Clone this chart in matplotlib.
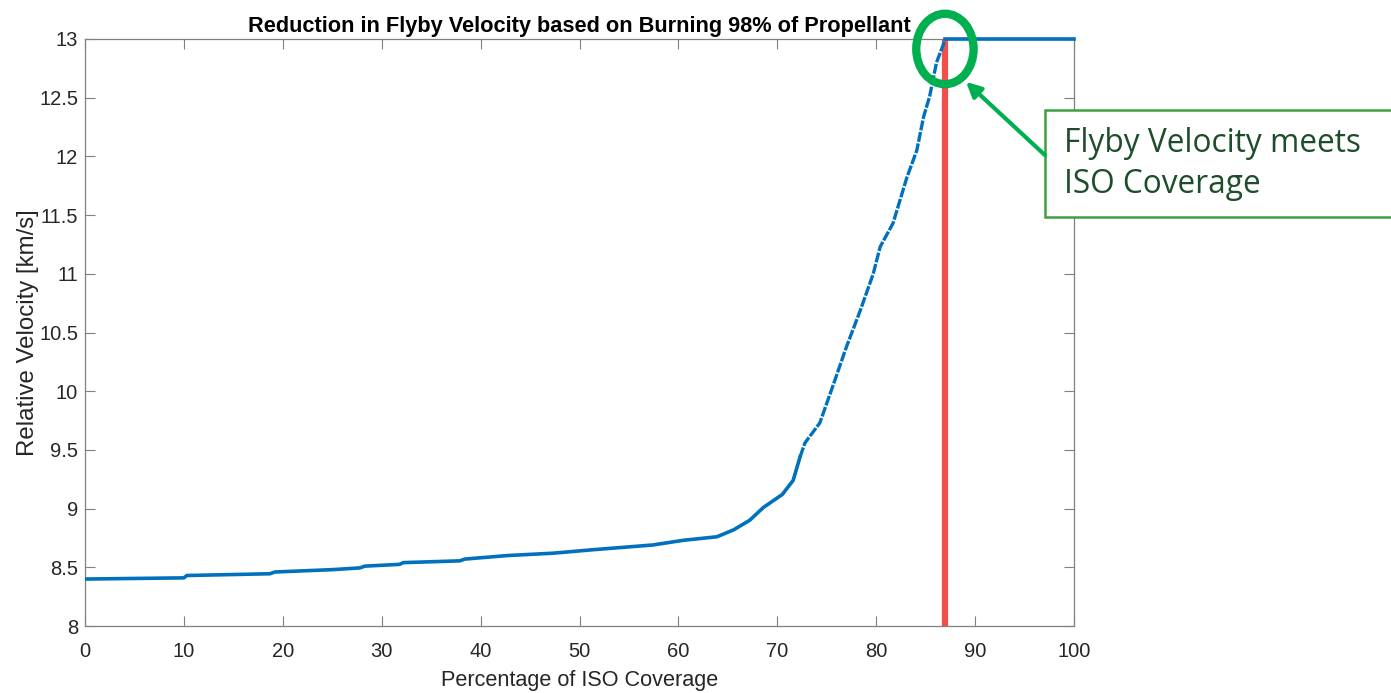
import matplotlib
matplotlib.use("Agg")
import matplotlib.pyplot as plt
from matplotlib.patches import Ellipse, Rectangle, FancyArrowPatch

# ---- data ----
coverage = [0, 10, 10.3, 18.7, 19.2, 25, 27.8, 28.3, 31.8, 32.2, 37.9, 38.4,
            42.7, 47.3, 51.4, 57.4, 60.5, 63.9, 65.6, 67.2, 68.6, 70.5, 71.6,
            72.3, 72.8, 74.3, 75.6, 77.0, 78.4, 79.7, 80.4, 81.7, 83.1, 84.1,
            84.8, 85.4, 86.1, 87.0]
velocity = [8.40, 8.41, 8.43, 8.445, 8.46, 8.48, 8.495, 8.51, 8.525, 8.54,
            8.555, 8.57, 8.60, 8.62, 8.65, 8.69, 8.73, 8.76, 8.82, 8.90, 9.01,
            9.12, 9.24, 9.44, 9.56, 9.73, 10.04, 10.38, 10.69, 11.0, 11.23,
            11.43, 11.82, 12.05, 12.34, 12.51, 12.8, 13.0]
flat_coverage = [87.0, 100.0]
flat_velocity = [13.0, 13.0]
meet_coverage = 87.0
sparse_from = 72.3   # beyond this the sampled points become visibly sparse
x_ticks = [0, 10, 20, 30, 40, 50, 60, 70, 80, 90, 100]
y_ticks = [8, 8.5, 9, 9.5, 10, 10.5, 11, 11.5, 12, 12.5, 13]
y_tick_labels = ["8", "8.5", "9", "9.5", "10", "10.5", "11", "11.5", "12", "12.5", "13"]

title = "Reduction in Flyby Velocity based on Burning 98% of Propellant"
xlabel = "Percentage of ISO Coverage"
ylabel = "Relative Velocity [km/s]"
note = "Flyby Velocity meets\nISO Coverage"

plt.rcParams['font.family'] = ['Liberation Sans', 'DejaVu Sans']

W, H = 1391, 693
fig = plt.figure(figsize=(W / 100, H / 100), dpi=100)
ax = fig.add_axes([85 / W, 1 - 626 / H, (1074 - 85) / W, (626 - 39) / H])

blue = "#0072BD"
red = "#F24E4E"
green = "#00B050"

ax.plot([meet_coverage, meet_coverage], [8, 13], color=red, lw=4.5,
        solid_capstyle='butt', zorder=2)
dense_x = [c for c in coverage if c <= sparse_from]
dense_y = velocity[:len(dense_x)]
sparse_x = coverage[len(dense_x) - 1:]
sparse_y = velocity[len(dense_x) - 1:]
ax.plot(dense_x, dense_y, color=blue, lw=2.6, zorder=3)
ax.plot(sparse_x, sparse_y, color=blue, lw=2.4, zorder=3,
        linestyle=(0, (3.0, 0.5)), dash_capstyle='butt')
ax.plot(flat_coverage, flat_velocity, color=blue, lw=2.6, zorder=3, clip_on=False)

ax.set_xlim(0, 100)
ax.set_ylim(8, 13)
ax.set_xticks(x_ticks)
ax.set_yticks(y_ticks)
ax.set_yticklabels(y_tick_labels)
ax.tick_params(direction='in', length=7, width=0.8, color='#808080',
               labelcolor='#262626', labelsize=14.5, top=True, right=True)
ax.tick_params(axis='x', pad=11.3)
ax.tick_params(axis='y', pad=5)
for s in ax.spines.values():
    s.set_color('#808080')
    s.set_linewidth(0.9)

ax.set_title(title, fontsize=15.7, fontweight='bold', color='black', pad=5)
ax.set_xlabel(xlabel, fontsize=15.6, color='#262626', labelpad=6.5)
ax.set_ylabel(ylabel, fontsize=17.3, color='#262626', labelpad=0)

# highlight circle
ell = Ellipse((86.95, 12.915), width=5.8, height=0.6, fill=False,
              edgecolor=green, lw=6, clip_on=False, zorder=5)
ax.add_patch(ell)

# text box
rect = Rectangle((1045 / W, 1 - 217 / H), 400 / W, (217 - 110) / H,
                 transform=fig.transFigure, fill=True, facecolor='white',
                 edgecolor='#3FA043', lw=1.8, clip_on=False, zorder=6)
fig.patches.append(rect)
fig.text(1064 / W, 1 - 164 / H, note, fontsize=22.8, color='#1E4D2B',
         family=['Open Sans', 'DejaVu Sans'], va='center', ha='left',
         linespacing=1.3, zorder=7)

arrow = FancyArrowPatch((1047 / W, 1 - 157 / H), (964 / W, 1 - 80 / H),
                        transform=fig.transFigure, arrowstyle='-|>',
                        mutation_scale=22, color=green, lw=3, zorder=6)
fig.patches.append(arrow)

fig.savefig("out.png", dpi=100)
